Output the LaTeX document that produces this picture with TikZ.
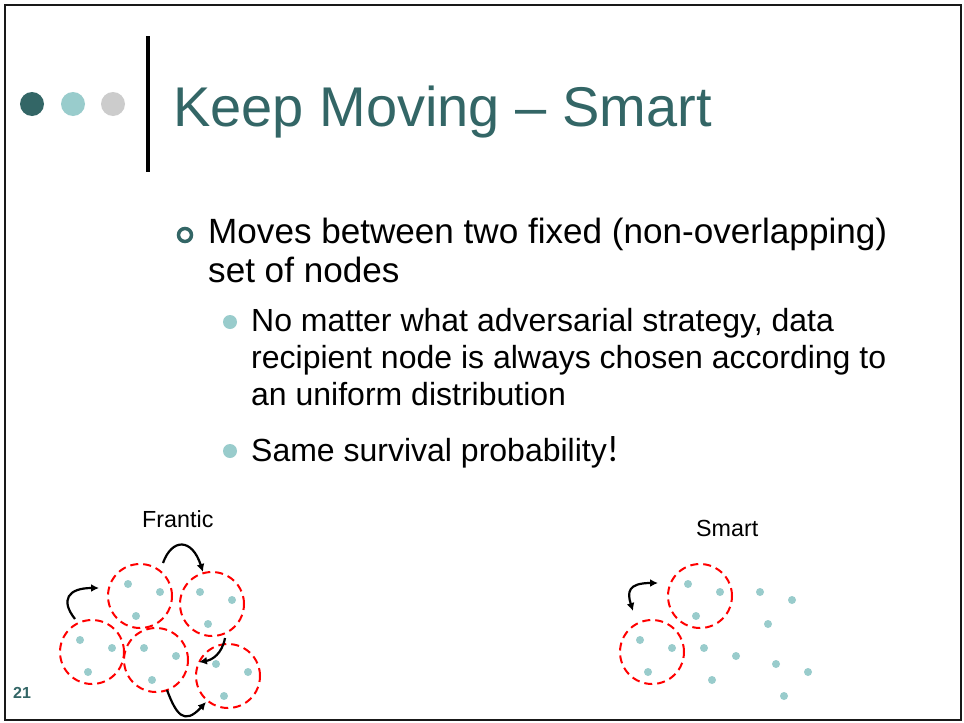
\documentclass[tikz,border=0pt]{standalone}
\usepackage{fontspec}
\setmainfont{Liberation Sans}
\newfontfamily\exclfont{Carlito}
\usetikzlibrary{arrows.meta}
\definecolor{darkteal}{HTML}{336666}
\definecolor{lightteal}{HTML}{99CCCC}
\definecolor{softgrey}{HTML}{CCCCCC}
\definecolor{ringred}{HTML}{FF0000}

\begin{document}
\begin{tikzpicture}[x=1pt,y=-1pt,
  txt/.style={inner sep=0pt,anchor=base west,text=black},
  headdot/.style={circle,inner sep=0pt,minimum size=24pt},
  subdot/.style={circle,fill=lightteal,inner sep=0pt,minimum size=14pt},
  member/.style={circle,fill=lightteal,inner sep=0pt,minimum size=8pt},
  cluster/.style={circle,draw=ringred,line width=2pt,dash pattern=on 8pt off 5pt,inner sep=0pt,minimum size=64pt},
  bare/.style={inner sep=0pt,minimum size=64pt},
  hop/.style={line width=2.2pt,-{Latex[length=8pt,width=8pt]}},
  swap/.style={line width=2.2pt,{Latex[length=8pt,width=8pt]}-{Latex[length=8pt,width=8pt]}}]

\useasboundingbox (0,0) rectangle (964,723);
\fill[white] (0,0) rectangle (964,723);
\draw[line width=2.5pt,black!90] (5,5) rectangle (961,720);

% header decoration
\node[headdot,fill=darkteal]  (h1) at (32,104) {};
\node[headdot,fill=lightteal] (h2) at (73,104) {};
\node[headdot,fill=softgrey]  (h3) at (113,104) {};
\fill[black] (146,36) rectangle (150,172);

\node[txt,text=darkteal,font=\fontsize{56}{64}\selectfont] (title) at (173,126) {Keep Moving -- Smart};

% bullet list
\node[circle,draw=darkteal,line width=3.5pt,inner sep=0pt,minimum size=13pt] (b0) at (185,235) {};
\node[txt,font=\fontsize{35.1}{40}\selectfont] (l1) at (208,243) {Moves between two fixed (non-overlapping)};
\node[txt,font=\fontsize{35.1}{40}\selectfont] (l2) at (208,282) {set of nodes};

\node[subdot] (b1) at (230,322) {};
\node[txt,font=\fontsize{32}{37}\selectfont] (s1) at (251,331) {No matter what adversarial strategy, data};
\node[txt,font=\fontsize{32}{37}\selectfont] (s2) at (251,368) {recipient node is always chosen according to};
\node[txt,font=\fontsize{32}{37}\selectfont] (s3) at (251,405) {an uniform distribution};
\node[subdot] (b2) at (230,451) {};
\node[txt,font=\fontsize{32}{37}\selectfont] (s4) at (251,461) {Same survival probability{\exclfont\fontsize{37}{40}\selectfont!}};

% slide number
\node[txt,text=darkteal,font=\fontsize{16}{18}\selectfont\bfseries] (num) at (13,698) {21};

% diagram labels
\node[txt,font=\fontsize{23.3}{27}\selectfont] (lf) at (142,527) {Frantic};
\node[txt,font=\fontsize{23.3}{27}\selectfont] (ls) at (696,536) {Smart};

% node groups: each holds three members
\foreach \n/\cx/\cy/\st in {f1/140/596/cluster, f2/212/604/cluster, f3/92/652/cluster,
                            f4/156/660/cluster, f5/228/676/cluster,
                            s1g/700/596/cluster, s2g/772/604/bare, s3g/652/652/cluster,
                            s4g/716/660/bare, s5g/788/676/bare} {
  \node[\st] (\n) at (\cx,\cy) {};
  \node[member] (\n-a) at (\cx-12,\cy-12) {};
  \node[member] (\n-b) at (\cx+20,\cy-4) {};
  \node[member] (\n-c) at (\cx-4,\cy+20) {};
}

% frantic moves
\coordinate (a1s) at (75,619);   \coordinate (a1e) at (99,588);
\coordinate (a2s) at (163,563);  \coordinate (a2e) at (203,572);
\coordinate (a3s) at (225,638);  \coordinate (a3e) at (199,662);
\coordinate (a4s) at (167,690);  \coordinate (a4e) at (206,702);
\draw[hop] (a1s) .. controls (60,600) and (68,588) .. (a1e);
\draw[hop] (a2s) .. controls (172,538) and (192,538) .. (a2e);
\draw[hop] (a3s) .. controls (222,654) and (212,660) .. (a3e);
\draw[hop] (a4s) .. controls (176,714) and (184,726) .. (a4e);

% smart move
\coordinate (b1s) at (633,611);  \coordinate (b1e) at (658,583);
\draw[swap] (b1s) .. controls (627,592) and (628,583) .. (b1e);
\end{tikzpicture}
\end{document}
